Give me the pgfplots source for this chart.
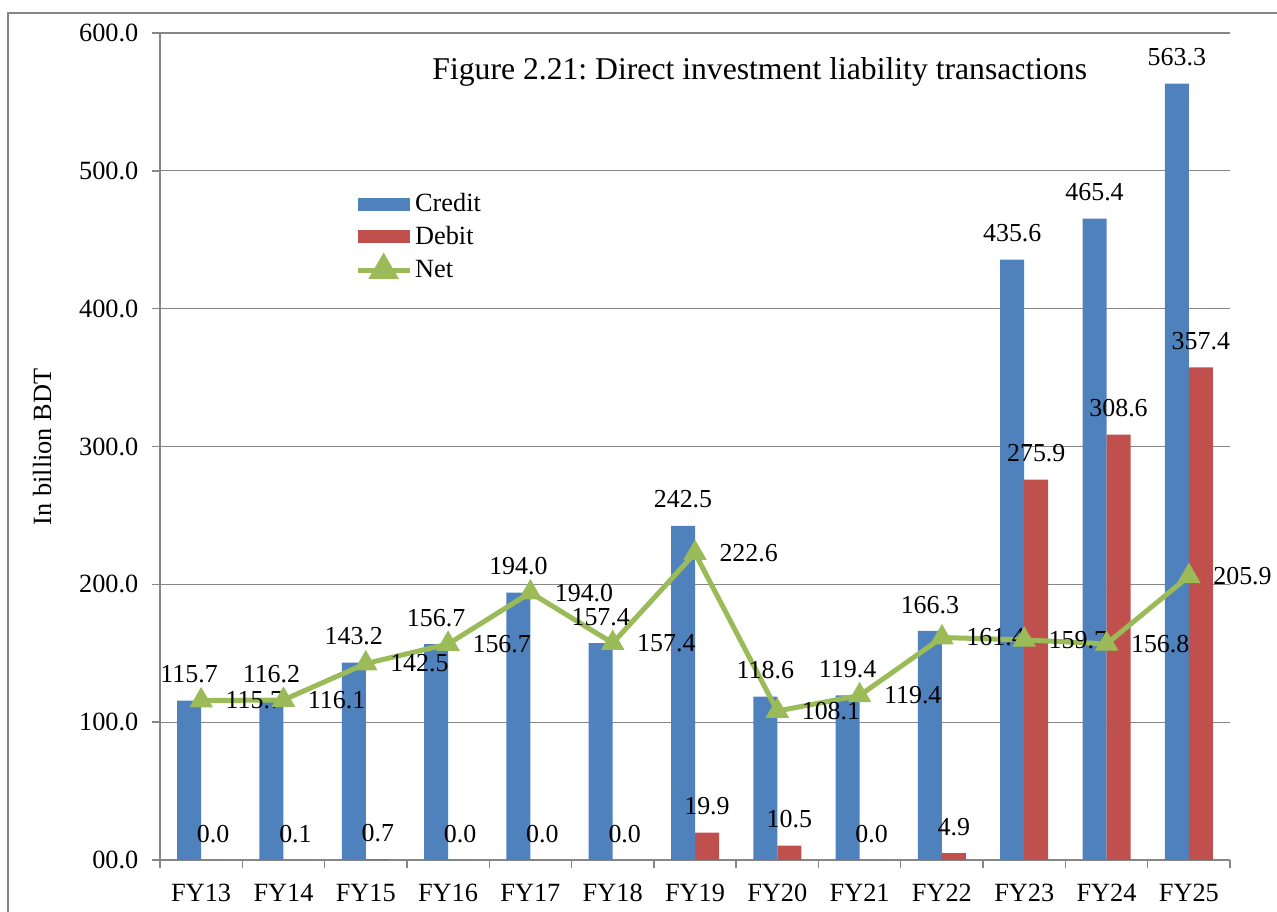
\documentclass[border=0pt]{standalone}
\usepackage{pgfplots}
\pgfplotsset{compat=1.18}
\usepackage{pgfplotstable}
\usepackage{fontspec}
\setmainfont{Liberation Serif}
\frenchspacing
\definecolor{cblue}{HTML}{4F81BD}
\definecolor{cred}{HTML}{C0504D}
\definecolor{cgreen}{HTML}{9BBB59}
\definecolor{axgray}{RGB}{134,134,134}
\pgfplotstableread{
x credit debit net
0 115.7 0.0 115.7
1 116.2 0.1 116.1
2 143.2 0.7 142.5
3 156.7 0.0 156.7
4 194.0 0.0 194.0
5 157.4 0.0 157.4
6 242.5 19.9 222.6
7 118.6 10.5 108.1
8 119.4 0.0 119.4
9 166.3 4.9 161.4
10 435.6 275.9 159.7
11 465.4 308.6 156.8
12 563.3 357.4 205.9
}\datatable
\newcommand{\lblfont}{\fontsize{13}{15}\selectfont}
\newcommand{\tickfont}{\fontsize{13.2}{15}\selectfont}
\begin{document}
\begin{tikzpicture}
\useasboundingbox (0,0) rectangle (638.5bp,456bp);
\draw[axgray, line width=1bp] (4bp,0) -- (4bp,449.5bp) -- (638.5bp,449.5bp);
\node[anchor=base west, font=\fontsize{15.9}{18}\selectfont, inner sep=0pt] at (216bp,416bp) {Figure 2.21: Direct investment liability transactions};
\node[anchor=base, rotate=90, font=\tickfont, inner sep=0pt] at (25.5bp,232.5bp) {In billion BDT};
\begin{axis}[
  at={(80bp,26bp)}, anchor=south west,
  scale only axis, width=535bp, height=413.5bp,
  xmin=-0.5, xmax=12.5, ymin=0, ymax=600,
  axis x line=bottom, axis y line=left,
  axis line style={-, draw=axgray, line width=0.7bp},
  tick align=outside, major tick length=3.8bp,
  tick style={draw=axgray, line width=0.7bp},
  ytick={0,100,...,600},
  yticklabels={00.0,100.0,200.0,300.0,400.0,500.0,600.0},
  yticklabel style={font=\tickfont, xshift=-3.5bp},
  ymajorgrids, grid style={draw=axgray, line width=0.6bp},
  xtick={-0.5,0.5,...,12.5}, xticklabels={},
  extra x ticks={0,1,...,12},
  extra x tick labels={FY13,FY14,FY15,FY16,FY17,FY18,FY19,FY20,FY21,FY22,FY23,FY24,FY25},
  extra x tick style={major tick length=0pt, xticklabel style={font=\tickfont, yshift=-8.5bp}},
  clip=false,
  legend style={at={(0.182,0.81)}, anchor=north west, draw=none, fill=none,
    font=\tickfont, inner sep=0pt, row sep=2.5bp,
    nodes={inner sep=1.5bp}},
  legend cell align=left,
]
\addplot[ybar, bar width=12bp, bar shift=-6bp, fill=cblue, draw=none,
  nodes near coords={\pgfmathprintnumber[fixed,fixed zerofill,precision=1,assume math mode=true]{\pgfplotspointmeta}},
  every node near coord/.append style={font=\lblfont, inner sep=0pt, anchor=south, xshift=-6bp, yshift=8.5bp, text=black},
  legend image code/.code={\fill[cblue] (0bp,-3.3bp) rectangle (26bp,3.3bp);}
] table[x=x,y=credit]{\datatable};
\addlegendentry{Credit}
\addplot[ybar, bar width=12bp, bar shift=6bp, fill=cred, draw=none,
  nodes near coords={\pgfmathprintnumber[fixed,fixed zerofill,precision=1,assume math mode=true]{\pgfplotspointmeta}},
  every node near coord/.append style={font=\lblfont, inner sep=0pt, anchor=south, xshift=6bp, yshift=8.5bp, text=black},
  legend image code/.code={\fill[cred] (0bp,-3.3bp) rectangle (26bp,3.3bp);}
] table[x=x,y=debit]{\datatable};
\addlegendentry{Debit}
\addplot[color=cgreen, line width=2.5bp, mark=triangle*, mark size=6.3bp, mark options={solid, fill=cgreen, draw=cgreen, line width=0.5bp},
  nodes near coords={\pgfmathprintnumber[fixed,fixed zerofill,precision=1,assume math mode=true]{\pgfplotspointmeta}},
  nodes near coords align=horizontal,
  every node near coord/.append style={font=\lblfont, inner sep=0pt, anchor=west, xshift=12bp, text=black},
  legend image code/.code={\draw[cgreen, line width=2.5bp] (0bp,0bp) -- (26bp,0bp); \fill[cgreen] (13bp,6.3bp) -- (18.46bp,-3.15bp) -- (7.54bp,-3.15bp) -- cycle;}
] table[x=x,y=net]{\datatable};
\addlegendentry{Net}
\end{axis}
\end{tikzpicture}
\end{document}
